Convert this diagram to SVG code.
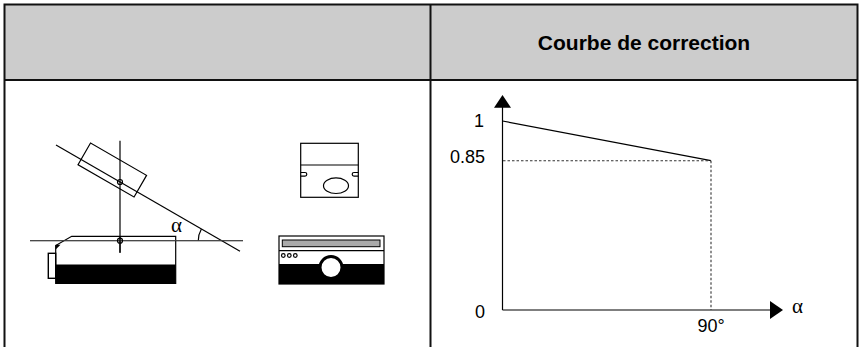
<svg xmlns="http://www.w3.org/2000/svg" width="861" height="347" viewBox="0 0 861 347">
<style>
.ln{stroke:#000;stroke-width:1.2;fill:none}
.thin{stroke:#444;stroke-width:1;fill:none}
.out{stroke:#000;stroke-width:1.4;fill:#fff}
.dot{stroke:#333;stroke-width:1.1;stroke-dasharray:2.5,2;fill:none}
.lbl{font-family:"Liberation Sans",Arial,sans-serif;font-size:18px;fill:#000}
.grk{font-family:"Liberation Serif","DejaVu Serif",serif;font-size:21px;fill:#000}
.hdr{font-family:"Liberation Sans",Arial,sans-serif;font-size:21px;font-weight:bold;fill:#000}
</style>
<g id="table">
<rect x="4.5" y="4.5" width="853" height="75.5" fill="#cccccc"/>
<path d="M4.5,347 V4.5 H857.5 V347 M4.5,80 H857.5 M430.5,4.5 V347" stroke="#111" stroke-width="2" fill="none"/>
<text class="hdr" x="644" y="50" text-anchor="middle">Courbe de correction</text>
</g>
<g id="geometry">
<line class="thin" x1="30" y1="240.7" x2="243" y2="240.7"/>
<line class="ln" x1="56" y1="145" x2="240" y2="251.2"/>
<line class="ln" x1="120" y1="140.7" x2="120" y2="252.7"/>
<path class="ln" d="M198.3,240.7 A23.4,23.4 0 0 1 201.4,229"/>
<text class="grk" x="171" y="232">α</text>
</g>
<g id="tilted-camera">
<rect class="ln" x="-45" y="-19" width="64.7" height="25" transform="translate(120,182) rotate(30)"/>
<circle class="ln" cx="120" cy="182" r="2.5"/>
</g>
<g id="projector">
<rect class="out" x="48.3" y="253.3" width="7.4" height="25"/>
<path class="ln" d="M55.7,283.3 V245.5 L71.7,236.3 H175.7 V283.3 Z"/>
<rect x="55.7" y="264.5" width="120" height="19" fill="#000"/>
<path d="M55.7,244.8 L60.5,244.8 L55.7,249.5 Z" fill="#000"/>
<line class="thin" x1="30" y1="240.7" x2="243" y2="240.7"/>
<line class="ln" x1="120" y1="236.3" x2="120" y2="252.7"/>
<circle class="ln" cx="120" cy="240.7" r="2.5"/>
</g>
<g id="front-camera">
<rect class="ln" x="300.7" y="143.3" width="57.6" height="54"/>
<line class="ln" x1="300.7" y1="165" x2="358.3" y2="165"/>
<path class="ln" d="M300.7,172.5 H305 A1.8,1.8 0 0 1 305,176.1 H300.7"/>
<path class="ln" d="M358.3,172.5 H354 A1.8,1.8 0 0 0 354,176.1 H358.3"/>
<ellipse class="ln" cx="336" cy="185.7" rx="12.5" ry="7.8"/>
</g>
<g id="front-projector">
<rect class="ln" x="279" y="236" width="105" height="48"/>
<rect x="282.3" y="240" width="97.7" height="6.7" fill="#aaaaaa" stroke="#000" stroke-width="1"/>
<line class="ln" x1="279" y1="250.7" x2="384" y2="250.7"/>
<circle class="ln" cx="283.3" cy="255.5" r="1.8"/>
<circle class="ln" cx="289.3" cy="255.5" r="1.8"/>
<circle class="ln" cx="295.3" cy="255.5" r="1.8"/>
<rect x="279" y="264" width="105" height="20" fill="#000"/>
<circle cx="331" cy="267.5" r="11" fill="#fff" stroke="#000" stroke-width="3"/>
</g>
<g id="graph">
<line class="ln" x1="502.5" y1="107" x2="502.5" y2="310"/>
<line class="ln" x1="502.5" y1="310" x2="771" y2="310"/>
<polygon points="494,107.7 511,107.7 502.5,95" fill="#000"/>
<polygon points="770,301 770,319 783,310" fill="#000"/>
<line class="ln" x1="502.5" y1="121" x2="711" y2="160.7"/>
<line class="dot" x1="503" y1="160.7" x2="711" y2="160.7"/>
<line class="dot" x1="711" y1="160.7" x2="711" y2="310"/>
<text class="lbl" x="484" y="127" text-anchor="end">1</text>
<text class="lbl" x="485" y="162.5" text-anchor="end">0.85</text>
<text class="lbl" x="480" y="318" text-anchor="middle">0</text>
<text class="lbl" x="711" y="332" text-anchor="middle">90°</text>
<text class="grk" x="792" y="313">α</text>
</g>
</svg>
